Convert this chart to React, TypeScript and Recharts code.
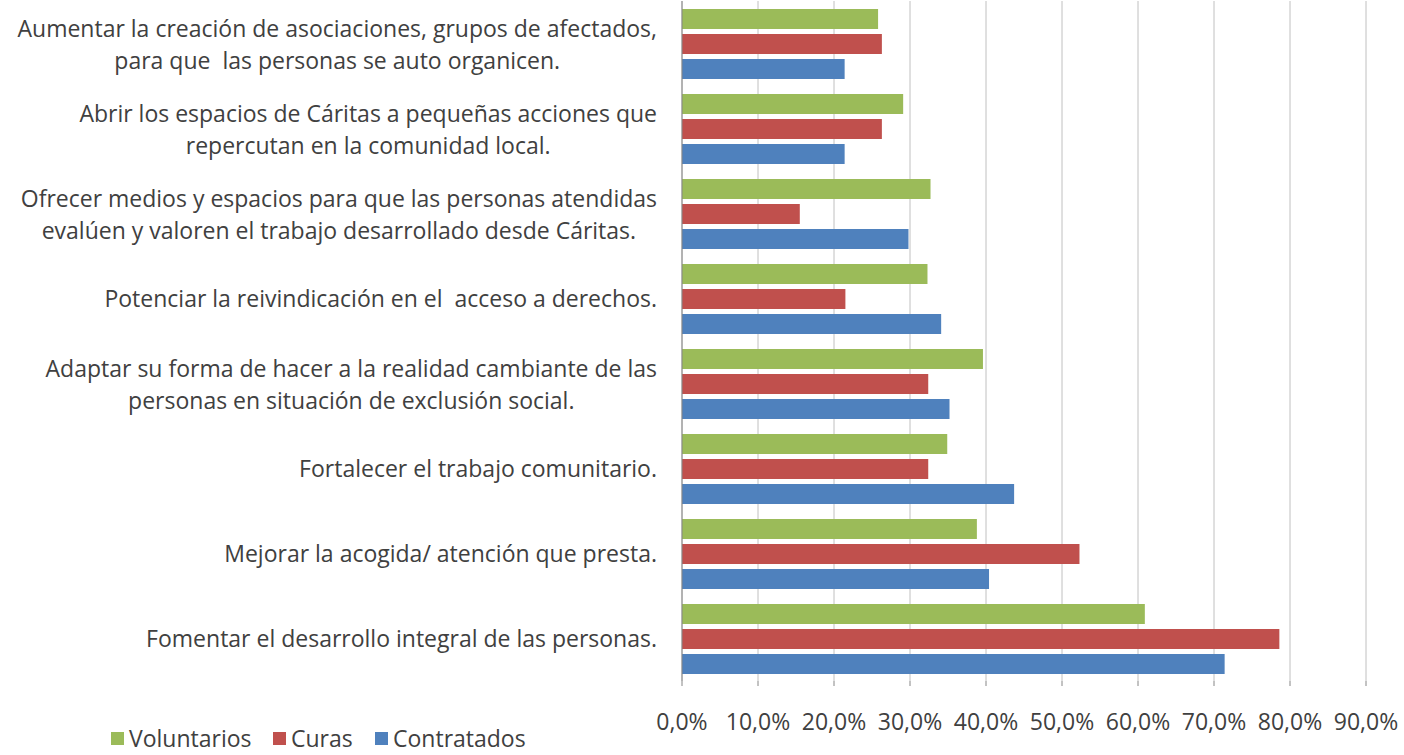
import React from "react";
import { BarChart, Bar, XAxis, YAxis, CartesianGrid } from "recharts";

const categories: string[] = [
  "Aumentar la creación de asociaciones, grupos de afectados,\npara que  las personas se auto organicen.",
  "Abrir los espacios de Cáritas a pequeñas acciones que\nrepercutan en la comunidad local.",
  "Ofrecer medios y espacios para que las personas atendidas\nevalúen y valoren el trabajo desarrollado desde Cáritas.",
  "Potenciar la reivindicación en el  acceso a derechos.",
  "Adaptar su forma de hacer a la realidad cambiante de las\npersonas en situación de exclusión social.",
  "Fortalecer el trabajo comunitario.",
  "Mejorar la acogida/ atención que presta.",
  "Fomentar el desarrollo integral de las personas.",
];
const voluntarios: number[] = [0.258, 0.291, 0.327, 0.323, 0.396, 0.349, 0.388, 0.609];
const curas: number[] = [0.263, 0.263, 0.155, 0.215, 0.324, 0.324, 0.523, 0.786];
const contratados: number[] = [0.214, 0.214, 0.298, 0.341, 0.352, 0.437, 0.404, 0.714];
const xTicks: number[] = [0, 0.1, 0.2, 0.3, 0.4, 0.5, 0.6, 0.7, 0.8, 0.9];
const seriesNames = ["Voluntarios", "Curas", "Contratados"];
const seriesColors = ["#9BBB59", "#C0504D", "#4F81BD"];
const legendLefts = [111, 273, 375];

const data = categories.map((c, i) => ({
  cat: c,
  Voluntarios: voluntarios[i],
  Curas: curas[i],
  Contratados: contratados[i],
}));

const FONT = "'Open Sans'";
const FS = 23;
const TEXT = "#404040";

let ctx: CanvasRenderingContext2D | null = null;
function measure(s: string): number {
  if (!ctx) {
    const c = document.createElement("canvas");
    ctx = c.getContext("2d");
  }
  if (!ctx) return s.length * 10;
  ctx.font = `${FS}px ${FONT}`;
  return ctx.measureText(s).width;
}

const CatTick = (props: any) => {
  const { y, payload } = props;
  const lines: string[] = String(payload.value).split("\n");
  const maxW = Math.max(...lines.map(measure));
  const right = 657;
  const cx = right - maxW / 2;
  const lh = 32;
  const start = -((lines.length - 1) * lh) / 2 + (lines.length > 1 ? 1.5 : 0);
  return (
    <g>
      {lines.map((l, i) => (
        <text
          key={i}
          x={cx}
          y={y + start + i * lh}
          dy="0.35em"
          textAnchor="middle"
          fill={TEXT}
          fontSize={FS}
          fontFamily={FONT}
          style={{ whiteSpace: "pre" }}
        >
          {l}
        </text>
      ))}
    </g>
  );
};

const PctTick = (props: any) => {
  const { x, payload } = props;
  const label = (payload.value * 100).toFixed(1).replace(".", ",") + "%";
  return (
    <text x={x} y={722} dy="0.35em" textAnchor="middle" fill={TEXT} fontSize={FS} fontFamily={FONT}>
      {label}
    </text>
  );
};

export default function App() {
  return (
    <div style={{ position: "absolute", left: 0, top: 0, width: 1404, height: 755, background: "#fff", overflow: "hidden" }}>
      <BarChart
        width={1404}
        height={755}
        data={data}
        layout="vertical"
        margin={{ top: 1, right: 38, bottom: 44, left: 0 }}
        barSize={20}
        barGap={5}
      >
        <CartesianGrid horizontal={false} stroke="#c0c0c0" strokeWidth={1} />
        <XAxis
          type="number"
          domain={[0, 0.9]}
          ticks={xTicks}
          interval={0}
          height={30}
          axisLine={false}
          tickLine={{ stroke: "#868686" }}
          tickSize={5}
          tick={<PctTick />}
        />
        <YAxis
          type="category"
          dataKey="cat"
          width={682}
          axisLine={{ stroke: "#868686" }}
          tickLine={false}
          tick={<CatTick />}
          interval={0}
        />
        {seriesNames.map((n, i) => (
          <Bar key={n} dataKey={n} fill={seriesColors[i]} isAnimationActive={false} />
        ))}
      </BarChart>
      {seriesNames.map((n, i) => (
        <div
          key={n}
          style={{
            position: "absolute",
            left: legendLefts[i],
            top: 726,
            height: 24,
            display: "flex",
            alignItems: "center",
            fontFamily: FONT,
            fontSize: FS,
            color: TEXT,
            lineHeight: "24px",
            whiteSpace: "nowrap",
          }}
        >
          <span style={{ display: "inline-block", width: 13, height: 13, background: seriesColors[i], marginRight: 5 }} />
          <span>{n}</span>
        </div>
      ))}
    </div>
  );
}
